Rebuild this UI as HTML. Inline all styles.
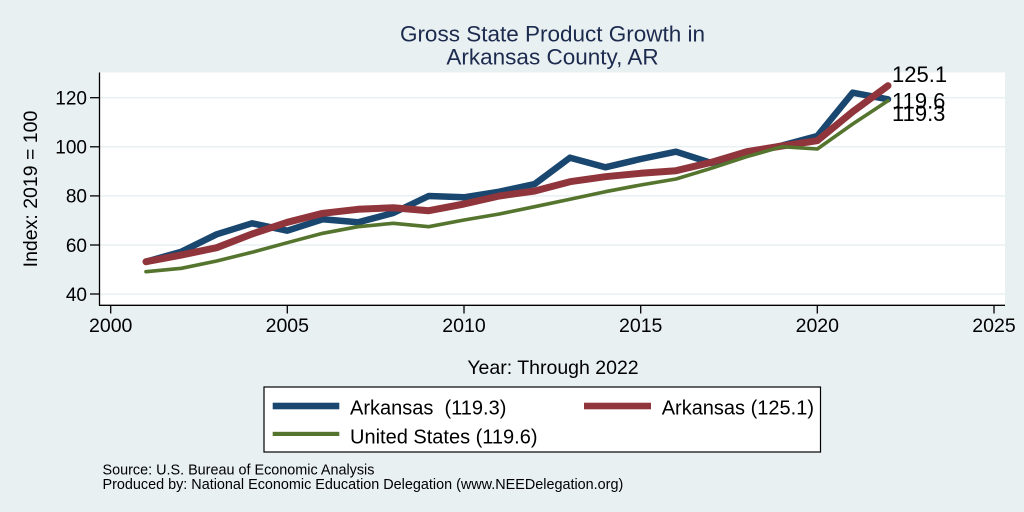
<!DOCTYPE html>
<html>
<head>
<meta charset="utf-8">
<style>
html,body{margin:0;padding:0;background:#e8f0f2;}
svg{display:block;}
text{font-family:"Liberation Sans",Arial,sans-serif;}
</style>
</head>
<body>
<svg width="1024" height="512" viewBox="0 0 1024 512" xmlns="http://www.w3.org/2000/svg">
<rect x="0" y="0" width="1024" height="512" fill="#e8f0f2"/>
<!-- title -->
<text x="552.5" y="41.7" font-size="22.5" fill="#1c2a4e" text-anchor="middle">Gross State Product Growth in</text>
<text x="552.5" y="64.5" font-size="22.5" fill="#1c2a4e" text-anchor="middle">Arkansas County, AR</text>
<!-- plot region -->
<rect x="99.5" y="72.5" width="905.5" height="232.5" fill="#ffffff"/>
<!-- gridlines -->
<g stroke="#e8f0f2" stroke-width="1.5">
<line x1="100" y1="97.7" x2="1005" y2="97.7"/>
<line x1="100" y1="146.8" x2="1005" y2="146.8"/>
<line x1="100" y1="195.9" x2="1005" y2="195.9"/>
<line x1="100" y1="245" x2="1005" y2="245"/>
<line x1="100" y1="294" x2="1005" y2="294"/>
</g>
<!-- axes -->
<g stroke="#000" stroke-width="1.3" fill="none">
<line x1="99.5" y1="72.5" x2="99.5" y2="305.5"/>
<line x1="99" y1="305.3" x2="1005" y2="305.3"/>
<!-- y ticks -->
<line x1="90" y1="97.7" x2="99.5" y2="97.7"/>
<line x1="90" y1="146.8" x2="99.5" y2="146.8"/>
<line x1="90" y1="195.9" x2="99.5" y2="195.9"/>
<line x1="90" y1="245" x2="99.5" y2="245"/>
<line x1="90" y1="294" x2="99.5" y2="294"/>
<!-- x ticks -->
<line x1="110.7" y1="305.3" x2="110.7" y2="313.5"/>
<line x1="287.3" y1="305.3" x2="287.3" y2="313.5"/>
<line x1="464" y1="305.3" x2="464" y2="313.5"/>
<line x1="640.7" y1="305.3" x2="640.7" y2="313.5"/>
<line x1="817.3" y1="305.3" x2="817.3" y2="313.5"/>
<line x1="994" y1="305.3" x2="994" y2="313.5"/>
</g>
<!-- y tick labels -->
<g font-size="19" fill="#000" text-anchor="end">
<text x="87" y="104.5">120</text>
<text x="87" y="153.6">100</text>
<text x="87" y="202.7">80</text>
<text x="87" y="251.8">60</text>
<text x="87" y="300.8">40</text>
</g>
<!-- x tick labels -->
<g font-size="19.5" fill="#000" text-anchor="middle">
<text x="110.7" y="332">2000</text>
<text x="287.3" y="332">2005</text>
<text x="464" y="332">2010</text>
<text x="640.7" y="332">2015</text>
<text x="817.3" y="332">2020</text>
<text x="994" y="332">2025</text>
</g>
<!-- axis titles -->
<text x="553" y="374" font-size="19.5" fill="#000" text-anchor="middle">Year: Through 2022</text>
<text transform="translate(37,189) rotate(-90)" x="0" y="0" font-size="19.5" fill="#000" text-anchor="middle">Index: 2019 = 100</text>
<!-- series -->
<g fill="none" stroke-linejoin="round" stroke-linecap="round">
<polyline stroke="#1a476f" stroke-width="6.5" points="146,261.7 181.4,251.7 216.7,234.3 252,223.3 287.3,230.7 322.7,219.3 358,222.3 393.3,213 428.7,196 464,197.3 499.3,191.7 534.7,184 570,157.7 605.3,167.3 640.7,159 676,151.7 711.3,163 746.7,153.3 782,145.5 817.3,136 852.7,92.7 888,99.3"/>
<polyline stroke="#90353b" stroke-width="7" points="146,261.7 181.4,255 216.7,247.7 252,234 287.3,222.3 322.7,213.3 358,209.3 393.3,207.7 428.7,210.7 464,204 499.3,196 534.7,191 570,181.7 605.3,176.7 640.7,173.3 676,170.7 711.3,162.3 746.7,151.7 782,146 817.3,140.7 852.7,111.7 888,85.7"/>
<polyline stroke="#55752f" stroke-width="3.6" points="146,271.7 181.4,268.3 216.7,261 252,252.3 287.3,242.7 322.7,233.3 358,226.7 393.3,223.3 428.7,226.7 464,220 499.3,214 534.7,206.7 570,199.3 605.3,191.7 640.7,185 676,179 711.3,168.3 746.7,156.7 782,146.7 817.3,149 852.7,124 888,100.7"/>
</g>
<!-- end labels -->
<g font-size="22" fill="#000">
<text x="892" y="82">125.1</text>
<text x="892" y="108.3">119.6</text>
<text x="892" y="121">119.3</text>
</g>
<!-- legend -->
<rect x="264" y="387" width="556.5" height="65" fill="#ffffff" stroke="#000" stroke-width="1.2"/>
<rect x="272.7" y="402.7" width="66.6" height="6.6" fill="#1a476f"/>
<rect x="584" y="402.7" width="67" height="6.6" fill="#90353b"/>
<rect x="272.7" y="431.8" width="66.6" height="4.2" fill="#55752f"/>
<g font-size="20" fill="#000">
<text x="350" y="414.5" xml:space="preserve">Arkansas  (119.3)</text>
<text x="661.7" y="414.5">Arkansas (125.1)</text>
<text x="350" y="443.3">United States (119.6)</text>
</g>
<!-- source -->
<g font-size="14.4" fill="#000">
<text x="102.5" y="474.5">Source: U.S. Bureau of Economic Analysis</text>
<text x="102.5" y="489">Produced by: National Economic Education Delegation (www.NEEDelegation.org)</text>
</g>
</svg>
</body>
</html>
